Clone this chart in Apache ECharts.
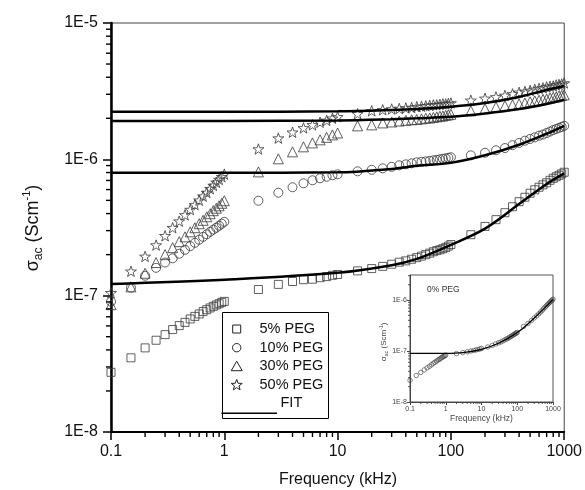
<!DOCTYPE html>
<html><head><meta charset="utf-8">
<script src="https://cdn.jsdelivr.net/npm/echarts@6/dist/echarts.min.js"></script>
<style>html,body{margin:0;padding:0;background:#fff}#c{width:585px;height:490px}</style>
</head><body><div id="c"></div>
<script>
const frequency = [0.1,0.15,0.2,0.25,0.3,0.35,0.4,0.45,0.5,0.55,0.6,0.65,0.7,0.75,0.8,0.85,0.9,0.95,1,
  2,3,4,5,6,7,8,9,10,
  15,20,25,30,35,40,45,50,55,60,65,70,75,80,85,90,95,100,
  150,200,250,300,350,400,450,500,550,600,650,700,750,800,850,900,950,1000];
const peg5 = [2.74e-8,3.50e-8,4.14e-8,4.71e-8,5.18e-8,5.64e-8,6.03e-8,6.37e-8,6.75e-8,7.05e-8,7.34e-8,7.64e-8,7.89e-8,8.13e-8,8.35e-8,8.55e-8,8.73e-8,8.93e-8,9.08e-8,
  1.11e-7,1.21e-7,1.27e-7,1.31e-7,1.32e-7,1.355e-7,1.38e-7,1.41e-7,1.43e-7,
  1.52e-7,1.58e-7,1.64e-7,1.70e-7,1.76e-7,1.80e-7,1.85e-7,1.90e-7,1.95e-7,2.00e-7,2.05e-7,2.10e-7,2.14e-7,2.17e-7,2.21e-7,2.25e-7,2.31e-7,2.37e-7,
  2.80e-7,3.22e-7,3.61e-7,4.06e-7,4.49e-7,4.89e-7,5.27e-7,5.64e-7,5.98e-7,6.24e-7,6.50e-7,6.73e-7,7.02e-7,7.26e-7,7.45e-7,7.64e-7,7.83e-7,8.04e-7];
const peg10 = [9.04e-8,1.145e-7,1.40e-7,1.60e-7,1.75e-7,1.88e-7,2.03e-7,2.17e-7,2.31e-7,2.44e-7,2.57e-7,2.70e-7,2.82e-7,2.94e-7,3.05e-7,3.15e-7,3.26e-7,3.37e-7,3.48e-7,
  4.97e-7,5.69e-7,6.24e-7,6.67e-7,7.02e-7,7.26e-7,7.45e-7,7.64e-7,7.77e-7,
  8.17e-7,8.38e-7,8.59e-7,8.81e-7,9.04e-7,9.19e-7,9.35e-7,9.51e-7,9.59e-7,9.66e-7,9.75e-7,9.84e-7,9.91e-7,1.00e-6,1.009e-6,1.017e-6,1.026e-6,1.035e-6,
  1.07e-6,1.117e-6,1.165e-6,1.21e-6,1.27e-6,1.32e-6,1.37e-6,1.41e-6,1.45e-6,1.49e-6,1.52e-6,1.56e-6,1.60e-6,1.64e-6,1.67e-6,1.70e-6,1.73e-6,1.76e-6];
const peg30 = [8.59e-8,1.16e-7,1.46e-7,1.75e-7,2.00e-7,2.25e-7,2.49e-7,2.70e-7,2.94e-7,3.15e-7,3.37e-7,3.57e-7,3.79e-7,3.99e-7,4.20e-7,4.38e-7,4.56e-7,4.76e-7,4.97e-7,
  8.09e-7,1.009e-6,1.135e-6,1.235e-6,1.32e-6,1.39e-6,1.45e-6,1.51e-6,1.56e-6,
  1.76e-6,1.79e-6,1.85e-6,1.88e-6,1.91e-6,1.93e-6,1.95e-6,1.96e-6,1.98e-6,2.00e-6,2.01e-6,2.03e-6,2.05e-6,2.07e-6,2.08e-6,2.10e-6,2.12e-6,2.14e-6,
  2.27e-6,2.35e-6,2.42e-6,2.47e-6,2.51e-6,2.55e-6,2.59e-6,2.64e-6,2.68e-6,2.71e-6,2.75e-6,2.77e-6,2.82e-6,2.85e-6,2.87e-6,2.92e-6,2.94e-6,2.97e-6];
const peg50 = [1.05e-7,1.51e-7,1.94e-7,2.35e-7,2.75e-7,3.15e-7,3.52e-7,3.91e-7,4.28e-7,4.65e-7,5.01e-7,5.37e-7,5.71e-7,6.08e-7,6.43e-7,6.78e-7,7.11e-7,7.45e-7,7.79e-7,
  1.19e-6,1.43e-6,1.58e-6,1.70e-6,1.79e-6,1.87e-6,1.93e-6,2.00e-6,2.05e-6,
  2.16e-6,2.27e-6,2.31e-6,2.34e-6,2.36e-6,2.38e-6,2.40e-6,2.43e-6,2.45e-6,2.47e-6,2.49e-6,2.51e-6,2.51e-6,2.53e-6,2.55e-6,2.55e-6,2.57e-6,2.59e-6,
  2.71e-6,2.80e-6,2.87e-6,2.94e-6,3.02e-6,3.10e-6,3.15e-6,3.20e-6,3.26e-6,3.31e-6,3.34e-6,3.40e-6,3.43e-6,3.45e-6,3.51e-6,3.54e-6,3.57e-6,3.63e-6];
const fitFrequency = [0.1,1,10,30,50,100,200,400,700,1000];
const fit5  = [1.22e-7,1.31e-7,1.47e-7,1.67e-7,1.86e-7,2.36e-7,3.10e-7,4.70e-7,6.60e-7,7.90e-7];
const fit10 = [7.96e-7,7.96e-7,8.03e-7,8.51e-7,8.96e-7,9.42e-7,1.07e-6,1.28e-6,1.54e-6,1.76e-6];
const fit30 = [1.91e-6,1.91e-6,1.93e-6,1.97e-6,2.00e-6,2.05e-6,2.17e-6,2.34e-6,2.55e-6,2.73e-6];
const fit50 = [2.23e-6,2.23e-6,2.25e-6,2.30e-6,2.34e-6,2.43e-6,2.59e-6,2.87e-6,3.23e-6,3.45e-6];
const peg0 = [2.66e-8,3.31e-8,3.80e-8,4.27e-8,4.68e-8,5.01e-8,5.37e-8,5.75e-8,6.03e-8,6.31e-8,6.61e-8,6.84e-8,7.08e-8,7.33e-8,7.59e-8,7.76e-8,7.94e-8,8.13e-8,8.32e-8,
  8.91e-8,9.33e-8,9.66e-8,1.00e-7,1.02e-7,1.05e-7,1.07e-7,1.10e-7,1.12e-7,
  1.20e-7,1.29e-7,1.38e-7,1.45e-7,1.51e-7,1.58e-7,1.66e-7,1.72e-7,1.78e-7,1.84e-7,1.91e-7,1.97e-7,2.04e-7,2.09e-7,2.16e-7,2.21e-7,2.26e-7,2.32e-7,
  3.02e-7,3.47e-7,3.98e-7,4.47e-7,4.90e-7,5.37e-7,5.82e-7,6.31e-7,6.76e-7,7.24e-7,7.67e-7,8.13e-7,8.51e-7,8.91e-7,9.33e-7,9.66e-7,1.00e-6,1.04e-6];
const insetFitFrequency = [0.1,1,3,10,30,100,300,1000];
const fit0 = [9.0e-8,9.0e-8,9.3e-8,1.08e-7,1.42e-7,2.3e-7,4.45e-7,1.03e-6];

const xTickValues = [0.1,1,10,100,1000];
const xTickLabels = ['0.1','1','10','100','1000'];
const yTickValues = [1e-8,1e-7,1e-6,1e-5];
const yTickLabels = ['1E-8','1E-7','1E-6','1E-5'];
const insetYTickValues = [1e-8,1e-7,1e-6];
const insetYTickLabels = ['1E-8','1E-7','1E-6'];
const legendNames = ['5% PEG','10% PEG','30% PEG','50% PEG'];

function minorTicks(lo, hi, extra) {
  const out = [];
  for (let e = lo; e < hi; e++) for (let m = 2; m <= 9; m++) out.push(+(m * Math.pow(10, e)).toPrecision(3));
  return out.concat(extra || []);
}
function labelFrom(values, labels) {
  return function (v) {
    const i = values.findIndex(t => Math.abs(Math.log10(t) - Math.log10(v)) < 1e-6);
    return i >= 0 ? labels[i] : '';
  };
}
const FONT = '"Liberation Sans", Arial, sans-serif';
const STAR = 'path://M0,-10 L2.35,-3.24 L9.51,-3.09 L3.8,1.24 L5.88,8.09 L0,4 L-5.88,8.09 L-3.8,1.24 L-9.51,-3.09 L-2.35,-3.24 Z';
const markStyle = { color: 'rgba(0,0,0,0)', borderColor: '#383838', borderWidth: 1 };
function zip(xs, ys) { return xs.map((x, i) => [x, ys[i]]); }

const chart = echarts.init(document.getElementById('c'), null, { renderer: 'canvas' });

function scatter(name, data, symbol, size, xi, yi, st) {
  return { name, type: 'scatter', xAxisIndex: xi, yAxisIndex: yi, data, symbol, symbolSize: size,
    symbolKeepAspect: true, itemStyle: st || markStyle, z: 3, silent: true };
}
function fitLine(data, xi, yi, w) {
  return { type: 'line', xAxisIndex: xi, yAxisIndex: yi, data, smooth: 0.35, showSymbol: false,
    lineStyle: { color: '#000', width: w }, z: 4, silent: true };
}

function starPoints(cx, cy, R, r) {
  const pts = [];
  for (let i = 0; i < 10; i++) {
    const a = -Math.PI / 2 + i * Math.PI / 5, rr = i % 2 ? r : R;
    pts.push([cx + rr * Math.cos(a), cy + rr * Math.sin(a)]);
  }
  return pts;
}
const lgX = 236.7, lgRows = [329, 347.7, 366.2, 384.7];
const glyph = { fill: 'none', stroke: '#222', lineWidth: 1 };
const baseGraphics = [
  { type: 'rect', shape: { x: 222.5, y: 312.5, width: 106, height: 106 }, style: { fill: '#fff', stroke: '#000', lineWidth: 1 }, z: 10 },
  { type: 'rect', shape: { x: lgX - 4, y: lgRows[0] - 4, width: 8, height: 8 }, style: glyph, z: 11 },
  { type: 'circle', shape: { cx: lgX, cy: lgRows[1], r: 4.2 }, style: glyph, z: 11 },
  { type: 'polygon', shape: { points: [[lgX, lgRows[2] - 5], [lgX + 5.5, lgRows[2] + 4.5], [lgX - 5.5, lgRows[2] + 4.5]] }, style: glyph, z: 11 },
  { type: 'polygon', shape: { points: starPoints(lgX, lgRows[3] + 0.5, 5.8, 2.4) }, style: glyph, z: 11 },
  { type: 'line', shape: { x1: 221.5, y1: 413.3, x2: 277, y2: 413.3 }, style: { stroke: '#000', lineWidth: 1.5 }, z: 11 },
  { type: 'text', x: 280.5, y: 403, style: { text: 'FIT', font: '14.5px ' + FONT, fill: '#111', verticalAlign: 'middle' }, z: 11 }
].concat(legendNames.map((n, i) => ({ type: 'text', x: 259.5, y: lgRows[i], style: { text: n, font: '14.5px ' + FONT, fill: '#111', verticalAlign: 'middle' }, z: 11 })))
 .concat([
    { type: 'text', x: 33, y: 228, rotation: Math.PI / 2, z: 12,
      style: { text: '{a|σ}{b|ac}{a| (Scm}{c|-1}{a|)}', align: 'center', verticalAlign: 'middle',
        rich: { a: { font: '18px ' + FONT, fill: '#111', lineHeight: 24, verticalAlign: 'middle' },
                b: { font: '12px ' + FONT, fill: '#111', lineHeight: 24, verticalAlign: 'bottom' },
                c: { font: '11px ' + FONT, fill: '#111', lineHeight: 24, verticalAlign: 'top' } } } },
    { type: 'text', x: 338, y: 480, z: 12, style: { text: 'Frequency (kHz)', font: '16px ' + FONT, fill: '#111', align: 'center', verticalAlign: 'middle' } },
    { type: 'text', x: 427, y: 290, z: 12, style: { text: '0% PEG', font: '8.5px ' + FONT, fill: '#333', verticalAlign: 'middle' } },
    { type: 'text', x: 481.5, y: 418.5, z: 12, style: { text: 'Frequency (kHz)', font: '8.5px ' + FONT, fill: '#444', align: 'center', verticalAlign: 'middle' } },
    { type: 'text', x: 384, y: 342, rotation: Math.PI / 2, z: 12,
      style: { text: '{a|σ}{b|ac}{a| (Scm}{c|-1}{a|)}', align: 'center', verticalAlign: 'middle',
        rich: { a: { font: '8px ' + FONT, fill: '#444', lineHeight: 10, verticalAlign: 'middle' },
                b: { font: '5.5px ' + FONT, fill: '#444', lineHeight: 10, verticalAlign: 'bottom' },
                c: { font: '5px ' + FONT, fill: '#444', lineHeight: 10, verticalAlign: 'top' } } } }
 ]);

const option = {
  animation: false,
  backgroundColor: '#fff',
  grid: [
    { left: 111, top: 23, width: 454, height: 409, show: true, borderColor: '#444', borderWidth: 1, backgroundColor: 'rgba(0,0,0,0)' },
    { left: 410, top: 275, width: 143, height: 127, show: true, borderColor: '#555', borderWidth: 1, backgroundColor: '#fff' }
  ],
  xAxis: [
    { type: 'log', gridIndex: 0, position: 'bottom', min: 0.1, max: 1000, logBase: 10,
      axisLine: { show: true, onZero: false, lineStyle: { color: '#000', width: 2 } },
      axisTick: { show: true, length: 8, inside: false, lineStyle: { color: '#000', width: 1.5 }, customValues: xTickValues },
      axisLabel: { margin: 12, fontSize: 16, fontFamily: FONT, color: '#111', customValues: xTickValues, formatter: labelFrom(xTickValues, xTickLabels) },
      splitLine: { show: false } },
    { type: 'log', gridIndex: 1, position: 'bottom', min: 0.1, max: 1000, logBase: 10,
      axisLine: { show: true, onZero: false, lineStyle: { color: '#444', width: 1 } },
      axisTick: { show: true, length: 3, lineStyle: { color: '#444', width: 1 }, customValues: xTickValues },
      axisLabel: { margin: 4, fontSize: 7, fontFamily: FONT, color: '#444', customValues: xTickValues, formatter: labelFrom(xTickValues, xTickLabels) },
      splitLine: { show: false } }
  ],
  yAxis: [
    { type: 'log', gridIndex: 0, position: 'left', min: 1e-8, max: 1e-5, logBase: 10,
      axisLine: { show: true, onZero: false, lineStyle: { color: '#000', width: 2.5 } },
      axisTick: { show: true, length: 8, lineStyle: { color: '#000', width: 1.5 }, customValues: yTickValues },
      axisLabel: { margin: 13, fontSize: 16, fontFamily: FONT, color: '#111', customValues: yTickValues, formatter: labelFrom(yTickValues, yTickLabels) },
      splitLine: { show: false } },
    { type: 'log', gridIndex: 1, position: 'left', min: 1e-8, max: 3.1e-6, logBase: 10,
      axisLine: { show: true, onZero: false, lineStyle: { color: '#444', width: 1 } },
      axisTick: { show: true, length: 3, lineStyle: { color: '#444', width: 1 }, customValues: insetYTickValues },
      axisLabel: { margin: 3, fontSize: 7, fontFamily: FONT, color: '#444', customValues: insetYTickValues, formatter: labelFrom(insetYTickValues, insetYTickLabels) },
      splitLine: { show: false } }
  ],
  series: [
    scatter(legendNames[0], zip(frequency, peg5), 'rect', 8, 0, 0),
    scatter(legendNames[1], zip(frequency, peg10), 'circle', 9, 0, 0),
    scatter(legendNames[2], zip(frequency, peg30), 'triangle', 10, 0, 0),
    scatter(legendNames[3], zip(frequency, peg50), STAR, 11, 0, 0),
    fitLine(zip(fitFrequency, fit5), 0, 0, 2.5),
    fitLine(zip(fitFrequency, fit10), 0, 0, 2.5),
    fitLine(zip(fitFrequency, fit30), 0, 0, 2.5),
    fitLine(zip(fitFrequency, fit50), 0, 0, 2.5),
    scatter('0% PEG', zip(frequency, peg0), 'circle', 4.5, 1, 1, { color: 'rgba(0,0,0,0)', borderColor: '#444', borderWidth: 0.8 }),
    fitLine(zip(insetFitFrequency, fit0), 1, 1, 1.3)
  ],
  graphic: baseGraphics
};
chart.setOption(option);

// minor log ticks, positioned through the axes' own scales
function minorTickLines(axisIdx, values, dir, len, color, width) {
  const out = [];
  const yMin = 1e-8, xMin = 0.1;
  values.forEach(v => {
    let px, py;
    if (dir === 'x') {
      px = chart.convertToPixel({ xAxisIndex: axisIdx }, v);
      py = chart.convertToPixel({ yAxisIndex: axisIdx }, yMin);
      if (isFinite(px) && isFinite(py)) out.push({ type: 'line', z: 20, shape: { x1: px, y1: py, x2: px, y2: py + len }, style: { stroke: color, lineWidth: width } });
    } else {
      py = chart.convertToPixel({ yAxisIndex: axisIdx }, v);
      px = chart.convertToPixel({ xAxisIndex: axisIdx }, xMin);
      if (isFinite(px) && isFinite(py)) out.push({ type: 'line', z: 20, shape: { x1: px, y1: py, x2: px - len, y2: py }, style: { stroke: color, lineWidth: width } });
    }
  });
  return out;
}
const tickGraphics = []
  .concat(minorTickLines(0, minorTicks(-1, 3), 'x', 5, '#000', 1.4))
  .concat(minorTickLines(0, minorTicks(-8, -5), 'y', 5, '#000', 1.4))
  .concat(minorTickLines(1, minorTicks(-1, 3), 'x', 2, '#444', 0.9))
  .concat(minorTickLines(1, minorTicks(-8, -6, [2e-6, 3e-6]), 'y', 2, '#444', 0.9));
chart.setOption({ graphic: baseGraphics.concat(tickGraphics) });
</script></body></html>
